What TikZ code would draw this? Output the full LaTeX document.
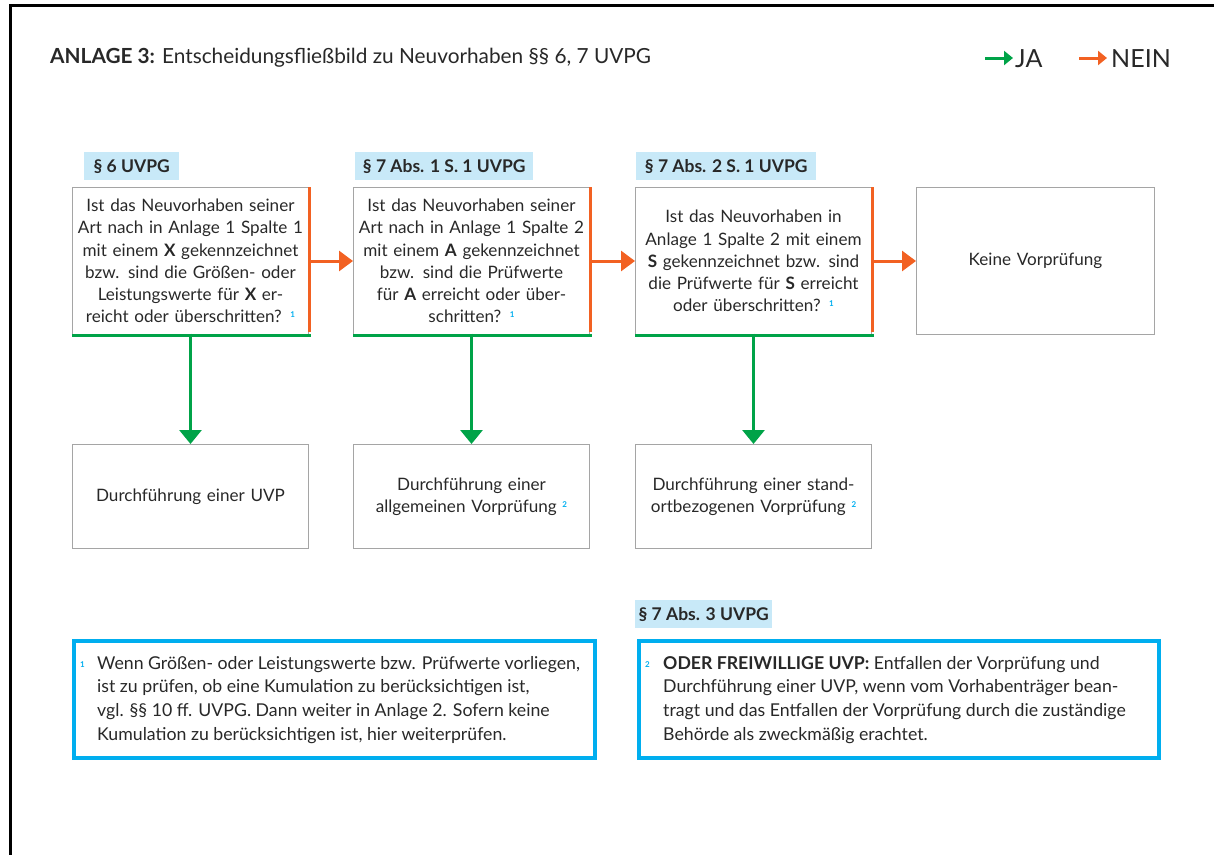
\documentclass[tikz,border=0pt]{standalone}
\usepackage{fontspec}
\setmainfont{Lato}
\usetikzlibrary{arrows.meta}
\definecolor{jagreen}{RGB}{0,163,72}
\definecolor{neinorange}{RGB}{242,97,34}
\definecolor{fnblue}{RGB}{0,174,239}
\definecolor{hdrblue}{RGB}{200,233,248}
\definecolor{boxgray}{RGB}{165,165,165}
\definecolor{txt}{RGB}{40,40,40}
\newcommand{\fnmark}[1]{\raisebox{0.55ex}{\textcolor{fnblue}{\fontsize{8}{8}\selectfont\bfseries #1}}}
\tikzset{
  qbox/.style={draw=boxgray, line width=1pt, minimum width=236pt, minimum height=147pt,
    text width=232pt, align=center, anchor=north west, inner sep=0pt,
    font=\fontsize{17.1}{22.2}\selectfont, text=txt},
  rbox/.style={draw=boxgray, line width=1pt, minimum width=236pt, minimum height=104pt,
    text width=232pt, align=center, anchor=north west, inner sep=0pt,
    font=\fontsize{17.1}{22.2}\selectfont, text=txt},
  hdr/.style={fill=hdrblue, anchor=north west, minimum height=28pt, inner sep=0pt,
    font=\fontsize{17.5}{18}\selectfont\bfseries, text=txt},
  fnbox/.style={draw=fnblue, line width=4pt, minimum height=117pt,
    anchor=north west, inner sep=0pt},
  fntext/.style={anchor=north west, align=left, inner sep=0pt,
    font=\fontsize{17.7}{23.7}\selectfont, text=txt},
  nline/.style={draw=neinorange, line width=3pt},
  yline/.style={draw=jagreen, line width=3pt},
  narrow/.style={nline, -{Triangle[length=14pt,width=20pt]}, neinorange},
  yarrow/.style={yline, -{Triangle[length=14pt,width=22pt]}, jagreen},
  legarrow/.style={line width=3pt, -{Triangle[length=9pt,width=14pt]}},
}
\begin{document}
\begin{tikzpicture}[x=1pt,y=-1pt]
\useasboundingbox (0,0) rectangle (1214,854);
% frame
\draw[line width=3pt, black] (10,856) -- (10,5) -- (1216,5);
% title
\node[anchor=base west, inner sep=0pt, text=txt, font=\fontsize{20.8}{22}\selectfont] (title) at (50,63)
  {\textbf{ANLAGE 3:} Entscheidungsfließbild zu Neuvorhaben §§ 6, 7 UVPG};
% legend
\coordinate (ja0) at (985,58);
\coordinate (ja1) at (1013,58);
\draw[legarrow, jagreen] (ja0) -- (ja1);
\node[anchor=base west, inner sep=0pt, text=txt, font=\fontsize{25}{26}\selectfont] (ja) at (1015,67) {JA};
\coordinate (ne0) at (1079,58);
\coordinate (ne1) at (1107,58);
\draw[legarrow, neinorange] (ne0) -- (ne1);
\node[anchor=base west, inner sep=0pt, text=txt, font=\fontsize{25}{26}\selectfont] (nein) at (1111,67) {NEIN};
% headers
\node[hdr, minimum width=95pt] (h1) at (84,152) {§ 6 UVPG};
\node[hdr, minimum width=178pt] (h2) at (355,152) {§ 7 Abs. 1 S. 1 UVPG};
\node[hdr, minimum width=180pt] (h3) at (636,152) {§ 7 Abs. 2 S. 1 UVPG};
\node[hdr, minimum width=137pt] (h4) at (635,600) {§ 7 Abs. 3 UVPG};
% question boxes
\node[qbox] (q1) at (72,187) {Ist das Neuvorhaben seiner\\Art nach in Anlage 1 Spalte 1\\mit einem \textbf{X} gekennzeichnet\\bzw. sind die Größen- oder\\Leistungswerte für \textbf{X} er-\\reicht oder überschritten? \fnmark{1}};
\node[qbox] (q2) at (353,187) {Ist das Neuvorhaben seiner\\Art nach in Anlage 1 Spalte 2\\mit einem \textbf{A} gekennzeichnet\\bzw. sind die Prüfwerte\\für \textbf{A} erreicht oder über-\\schritten? \fnmark{1}};
\node[qbox] (q3) at (635,187) {Ist das Neuvorhaben in\\Anlage 1 Spalte 2 mit einem\\\textbf{S} gekennzeichnet bzw. sind\\die Prüfwerte für \textbf{S} erreicht\\oder überschritten? \fnmark{1}};
\node[qbox, minimum width=238pt] (q4) at (916,187) {Keine Vorprüfung};
% result boxes
\node[rbox] (r1) at (72,444) {Durchführung einer UVP};
\node[rbox] (r2) at (353,444) {Durchführung einer\\allgemeinen Vorprüfung \fnmark{2}};
\node[rbox] (r3) at (635,444) {Durchführung einer stand-\\ortbezogenen Vorprüfung \fnmark{2}};
% coloured edges of question boxes
\foreach \q in {q1,q2,q3}{
  \draw[nline] (\q.north east) -- ([yshift=3pt]\q.south east);
  \draw[yline] (\q.south west) -- ([xshift=1.5pt]\q.south east);
}
% NEIN arrows
\draw[narrow] (q1.east) -- (q2.west);
\draw[narrow] (q2.east) -- (q3.west);
\draw[narrow] (q3.east) -- (q4.west);
% JA arrows
\draw[yarrow] ([yshift=1.5pt]q1.south) -- (r1.north);
\draw[yarrow] ([yshift=1.5pt]q2.south) -- (r2.north);
\draw[yarrow] ([yshift=1.5pt]q3.south) -- (r3.north);
% footnotes
\node[fnbox, minimum width=521pt] (f1) at (72,639) {};
\node[fnbox, minimum width=520pt] (f2) at (637,639) {};
\node[anchor=base west, inner sep=0pt] (m1) at (80,670) {\fnmark{1}};
\node[fntext] (t1) at (97,656) {Wenn Größen- oder Leistungswerte bzw. Prüfwerte vorliegen,\\ist zu prüfen, ob eine Kumulation zu berücksichtigen ist,\\vgl. §§ 10 ff. UVPG. Dann weiter in Anlage 2. Sofern keine\\Kumulation zu berücksichtigen ist, hier weiterprüfen.};
\node[anchor=base west, inner sep=0pt] (m2) at (645,670) {\fnmark{2}};
\node[fntext] (t2) at (663,656) {\textbf{ODER FREIWILLIGE UVP:} Entfallen der Vorprüfung und\\Durchführung einer UVP, wenn vom Vorhabenträger bean-\\tragt und das Entfallen der Vorprüfung durch die zuständige\\Behörde als zweckmäßig erachtet.};
\end{tikzpicture}
\end{document}
